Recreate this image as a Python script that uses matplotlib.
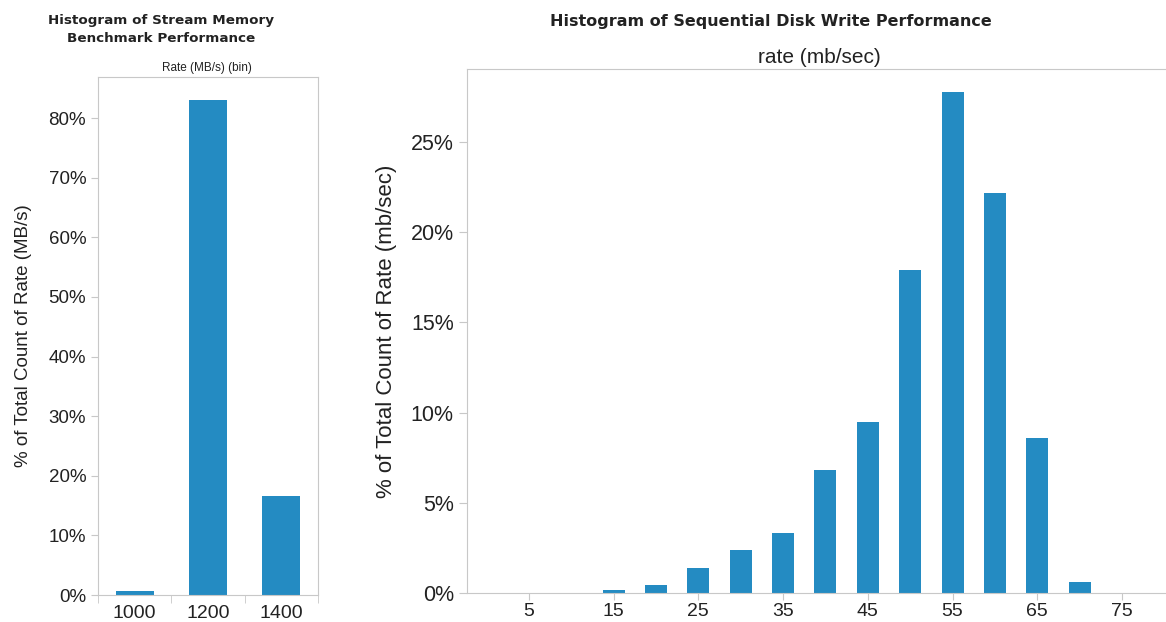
import numpy as np
import matplotlib
matplotlib.use("Agg")
import matplotlib.pyplot as plt
from matplotlib.ticker import FuncFormatter

# datos del histograma de memoria (stream)
mem_bins = ["1000", "1200", "1400"]
mem_pct = [0.6, 83.0, 16.6]

# datos del histograma de escritura secuencial en disco
disk_rate = [5, 10, 15, 20, 25, 30, 35, 40, 45, 50, 55, 60, 65, 70, 75, 80]
disk_pct = [0, 0, 0.15, 0.45, 1.4, 2.4, 3.3, 6.8, 9.5, 17.9, 27.8, 22.2, 8.6, 0.6, 0, 0]
disk_ticks = [5, 15, 25, 35, 45, 55, 65, 75]

bar_color = "#248bc2"
grey = "#c8c8c8"
txt = "#222222"

plt.rcParams['font.family'] = ['Liberation Sans', 'DejaVu Sans']

fig = plt.figure(figsize=(11.66, 6.22), dpi=100)

pct = FuncFormatter(lambda v, p: "%d%%" % v)

# ---- panel izquierdo ----
ax1 = fig.add_axes([0.0840, 0.0434, 0.1887, 0.8328])
x = np.arange(len(mem_bins))
ax1.bar(x, mem_pct, width=0.52, color=bar_color)
ax1.set_xlim(-0.5, 2.5)
ax1.set_ylim(0, 86.9)
ax1.set_yticks(np.arange(0, 90, 10))
ax1.yaxis.set_major_formatter(pct)
ax1.set_xticks(x)
ax1.set_xticklabels(mem_bins)
ax1.set_xticks(np.arange(-0.5, 3, 1), minor=True)
ax1.tick_params(axis='x', which='major', length=0, pad=7, labelsize=14, labelcolor=txt)
ax1.tick_params(axis='x', which='minor', length=6, color=grey)
ax1.tick_params(axis='y', length=5, color=grey, labelsize=13.5, labelcolor=txt)
for s in ax1.spines.values():
    s.set_color(grey)
ax1.set_ylabel("% of Total Count of Rate (MB/s)", fontsize=13.5, color=txt, labelpad=12)
fig.text(0.138, 0.953, "Histogram of Stream Memory\nBenchmark Performance",
         ha='center', va='center', fontsize=9.7, fontweight='bold', color=txt,
         family='DejaVu Sans', linespacing=1.5)
fig.text(0.1775, 0.891, "Rate (MB/s) (bin)", ha='center', va='center', fontsize=8.5, color=txt)

# ---- panel derecho ----
ax2 = fig.add_axes([0.4005, 0.0466, 0.62, 0.8424])
ax2.bar(disk_rate, disk_pct, width=2.6, color=bar_color)
ax2.set_xlim(-2.3, 83)
ax2.set_ylim(0, 29.05)
ax2.set_yticks(np.arange(0, 30, 5))
ax2.yaxis.set_major_formatter(pct)
ax2.set_xticks(disk_ticks)
ax2.tick_params(axis='x', length=5, color=grey, pad=2, labelsize=14, labelcolor=txt)
ax2.tick_params(axis='y', length=6, color=grey, labelsize=15.5, labelcolor=txt)
for s in ax2.spines.values():
    s.set_color(grey)
ax2.spines['right'].set_visible(False)
ax2.set_ylabel("% of Total Count of Rate (mb/sec)", fontsize=16, color=txt, labelpad=10)
fig.text(0.7024, 0.908, "rate (mb/sec)", ha='center', va='center', fontsize=15, color=txt)
fig.text(0.661, 0.965, "Histogram of Sequential Disk Write Performance",
         ha='center', va='center', fontsize=11.5, fontweight='bold', color=txt,
         family='DejaVu Sans')

fig.savefig("out.png", dpi=100)
